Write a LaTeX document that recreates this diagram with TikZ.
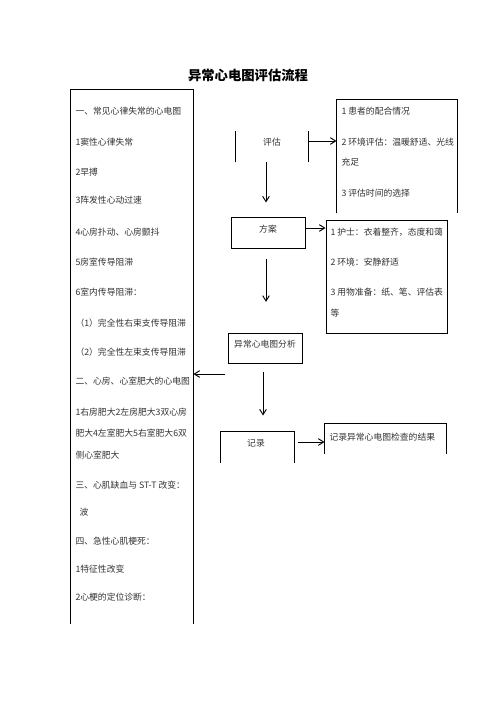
\documentclass[tikz,border=0pt]{standalone}
\usepackage{fontspec}
\setmainfont{Noto Sans CJK SC}
\usetikzlibrary{arrows.meta,calc}
\begin{document}
\begin{tikzpicture}[x=0.75pt,y=-0.75pt,line width=0.75pt,
  txt/.style={anchor=west,inner sep=0pt,text=black!80,font=\fontsize{6.6pt}{8pt}\selectfont},
  lbl/.style={inner sep=0pt,text=black!80,font=\fontsize{6.6pt}{8pt}\selectfont},
  boxn/.style 2 args={rectangle,draw=none,inner sep=0pt,minimum width=#1*0.75pt,minimum height=#2*0.75pt},
  arr/.style={-{Straight Barb[length=4pt,width=5pt]},line width=0.7pt}]
\useasboundingbox (0,0) rectangle (496,702);
\fill[white] (0,0) rectangle (496,702);
% title
\node[inner sep=0pt,font=\fontsize{10pt}{12pt}\selectfont\bfseries] (title) at (248,75) {异常心电图评估流程};
% box shapes
\node[boxn={122}{533}] (L) at (132,356.5) {};
\draw (L.south west) -- (L.north west) -- (L.north east) -- (L.south east);
\node[boxn={120}{113}] (R1) at (397,156.5) {};
\draw (R1.south west) -- (R1.north west) -- (R1.north east) -- (R1.south east);
\node[boxn={72}{30}] (E) at (272,147) {};
\draw (E.south west) -- (E.north west) (E.north east) -- (E.south east);
\node[boxn={74}{31},draw] (P) at (268,232.5) {};
\node[boxn={121}{113},draw] (R2) at (386.5,276.5) {};
\node[boxn={74}{30},draw] (A) at (265,348) {};
\node[boxn={73}{30}] (Rec) at (257.5,447) {};
\draw (Rec.south west) -- (Rec.north west) -- (Rec.north east) -- (Rec.south east);
\node[boxn={121}{29}] (R3) at (385.5,438.5) {};
\draw (R3.south west) -- (R3.north west) -- (R3.north east) -- (R3.south east);
% box labels
\node[lbl] (Et) at (272,142) {评估};
\node[lbl] (Pt) at (268,229) {方案};
\node[lbl] (At) at (265,344) {异常心电图分析};
\node[lbl] (Rt) at (256,443) {记录};
% left box text
\node[txt] (l1) at (75,111) {一、常见心律失常的心电图};
\node[txt] (l2) at (75,142) {1窦性心律失常};
\node[txt] (l3) at (75,172) {2早搏};
\node[txt] (l4) at (75,200) {3阵发性心动过速};
\node[txt] (l5) at (75,232) {4心房扑动、心房颤抖};
\node[txt] (l6) at (75,262) {5房室传导阻滞};
\node[txt] (l7) at (75,292) {6室内传导阻滞：};
\node[txt] (l8) at (75,323) {（1）完全性右束支传导阻滞};
\node[txt] (l9) at (75,352) {（2）完全性左束支传导阻滞};
\node[txt] (l10) at (75,381) {二、心房、心室肥大的心电图};
\node[txt] (l11) at (75,412) {1右房肥大2左房肥大3双心房};
\node[txt] (l12) at (75,433) {肥大4左室肥大5右室肥大6双};
\node[txt] (l13) at (75,455) {侧心室肥大};
\node[txt] (l14) at (75,485) {三、心肌缺血与 ST-T 改变：};
\node[txt] (l15) at (79,512) {波};
\node[txt] (l16) at (75,541) {四、急性心肌梗死：};
\node[txt] (l17) at (75,569) {1特征性改变};
\node[txt] (l18) at (75,597) {2心梗的定位诊断：};
% right box 1 text
\node[txt] (a1) at (341,111) {1 患者的配合情况};
\node[txt] (a2) at (341,142) {2 环境评估：温暖舒适、光线};
\node[txt] (a3) at (341,162) {充足};
\node[txt] (a4) at (341,193) {3 评估时间的选择};
% right box 2 text
\node[txt] (b1) at (330,232) {1 护士：衣着整齐，态度和蔼};
\node[txt] (b2) at (330,262) {2 环境：安静舒适};
\node[txt] (b3) at (330,292) {3 用物准备：纸、笔、评估表};
\node[txt] (b4) at (330,313) {等};
% right box 3 text
\node[txt] (c1) at (329,437) {记录异常心电图检查的结果};
% arrows
\draw[arr] (E.east |- 0,141) -- (R1.west |- 0,141);
\draw[arr,shorten >=10.5pt] (266,0 |- E.south) -- (266,0 |- P.north);
\draw[arr] (P.east |- 0,228) -- (R2.west |- 0,228);
\draw[arr,shorten <=7.5pt,shorten >=23pt] (266,0 |- P.south) -- (266,0 |- A.north);
\coordinate (As) at (225,374);
\draw[arr] (As) -- (L.east |- As);
\draw[arr,shorten <=6pt,shorten >=12pt] (263,0 |- A.south) -- (263,0 |- Rec.north);
\draw[arr] ($(Rec.east |- 0,442)+(3,0)$) -- (R3.west |- 0,442);
\end{tikzpicture}
\end{document}
